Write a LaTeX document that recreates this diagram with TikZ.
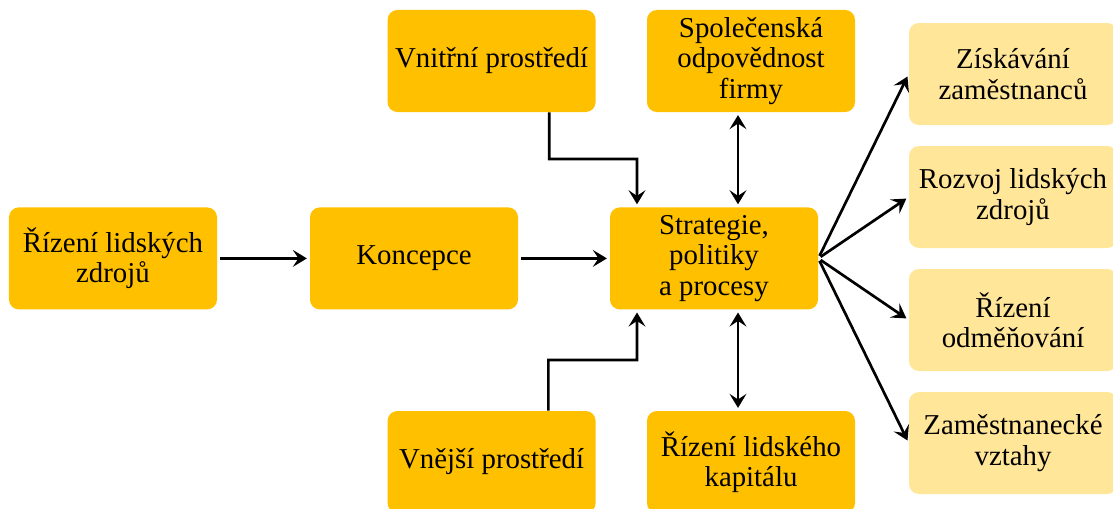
\documentclass[tikz,border=0pt]{standalone}
\usepackage{fontspec}
\setmainfont{Liberation Serif}
\usepackage{xcolor}
\definecolor{hrgold}{RGB}{255,192,0}
\definecolor{hrlight}{RGB}{255,230,153}
\usetikzlibrary{arrows.meta,positioning,calc}

\begin{document}
\begin{tikzpicture}[
  hrbox/.style={fill=hrgold,rounded corners=7pt,minimum width=5.2cm,minimum height=2.55cm,
    align=center,inner sep=2pt,font=\fontsize{20.5}{21.6}\selectfont},
  hritem/.style={hrbox,fill=hrlight},
  hrarrow/.style={-{Stealth[length=10pt,width=12pt,inset=4pt]},line width=1.9pt,
    shorten <=2pt,shorten >=2pt},
  hrboth/.style={hrarrow,{Stealth[length=10pt,width=12pt,inset=4pt]}-{Stealth[length=10pt,width=12pt,inset=4pt]}}
]
  \clip (0,0) rectangle (27.825,-12.7);

  % Main line
  \node[hrbox] (hrm) at (2.825,-6.46) {Řízení lidských\\zdrojů};
  \node[hrbox] (koncepce) at (10.35,-6.46) {Koncepce};
  \node[hrbox] (strategie) at (17.85,-6.46) {Strategie,\\politiky\\a procesy};

  % Environment and related areas
  \node[hrbox] (vnitrni) at (12.29,-1.525) {Vnitřní prostředí};
  \node[hrbox] (spolecenska) at (18.775,-1.525) {Společenská\\odpovědnost\\firmy};
  \node[hrbox] (vnejsi) at (12.29,-11.55) {Vnější prostředí};
  \node[hrbox] (kapital) at (18.775,-11.55) {Řízení lidského\\kapitálu};

  % Personnel activities
  \node[hritem] (ziskavani) at (25.325,-1.85) {Získávání\\zaměstnanců};
  \node[hritem] (rozvoj) at (25.325,-4.925) {Rozvoj lidských\\zdrojů};
  \node[hritem] (odmenovani) at (25.325,-8.0) {Řízení\\odměňování};
  \node[hritem] (vztahy) at (25.325,-11.075) {Zaměstnanecké\\vztahy};

  % Arrows
  \draw[hrarrow] (hrm.east) -- (koncepce.west);
  \draw[hrarrow] (koncepce.east) -- (strategie.west);
  \draw[hrarrow,shorten <=0pt] ([xshift=1.44cm]vnitrni.south) |- (15.925,-3.975) -- ([xshift=-1.925cm]strategie.north);
  \draw[hrarrow,shorten <=0pt] ([xshift=1.42cm]vnejsi.north) |- (15.925,-9.0) -- ([xshift=-1.925cm]strategie.south);
  \draw[hrboth] ([xshift=-0.325cm]spolecenska.south) -- ([xshift=-0.325cm]spolecenska.south |- strategie.north);
  \draw[hrboth] ([xshift=-0.325cm]kapital.north) -- ([xshift=-0.325cm]kapital.north |- strategie.south);
  \foreach \item in {ziskavani,rozvoj,odmenovani,vztahy}
    \draw[hrarrow] (strategie.east) -- (\item.west);
\end{tikzpicture}
\end{document}
